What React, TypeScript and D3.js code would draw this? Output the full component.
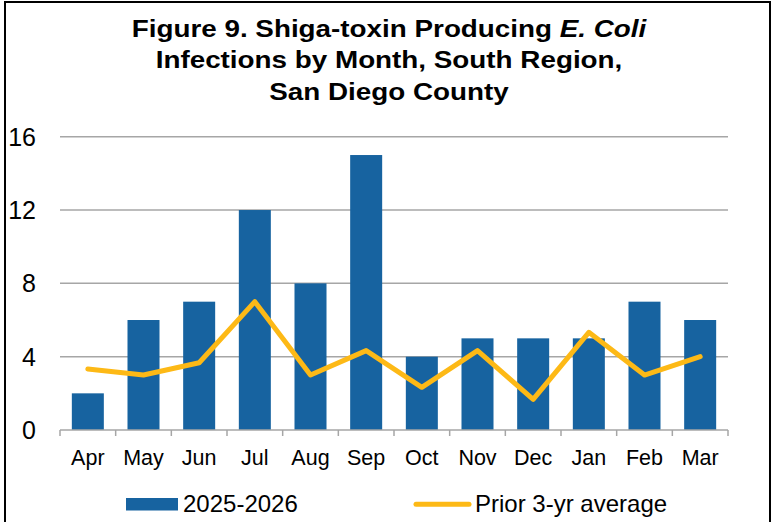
import React from "react";
import * as d3 from "d3";

const months = ["Apr", "May", "Jun", "Jul", "Aug", "Sep", "Oct", "Nov", "Dec", "Jan", "Feb", "Mar"];
const current = [2, 6, 7, 12, 8, 15, 4, 5, 5, 5, 7, 6];
const priorAvg = [3.33, 3, 3.67, 7, 3, 4.33, 2.33, 4.33, 1.67, 5.33, 3, 4];
const yTicks = [0, 4, 8, 12, 16];
const seriesNames = ["2025-2026", "Prior 3-yr average"];

const W = 772;
const H = 522;
const plotLeft = 60;
const plotRight = 728;
const plotTop = 136.7;
const plotBottom = 430;

const BLUE = "#1763a0";
const GOLD = "#fdb916";
const GRID = "#a6a6a6";
const FONT = "'Liberation Sans', Arial, sans-serif";

export default function App() {
  const x = d3.scaleBand<string>().domain(months).range([plotLeft, plotRight]).paddingInner(0.425).paddingOuter(0.2125);
  const xEdges = d3.scaleBand<string>().domain(months).range([plotLeft, plotRight]).padding(0);
  const y = d3.scaleLinear().domain([0, 16]).range([plotBottom, plotTop]);
  const line = d3
    .line<number>()
    .x((_, i) => (xEdges(months[i]) as number) + xEdges.bandwidth() / 2)
    .y((d) => y(d));

  const titleLines = [
    { y: 36.5, parts: [{ t: "Figure 9. Shiga-toxin Producing ", i: false }, { t: "E. Coli", i: true }] },
    { y: 68, parts: [{ t: "Infections by Month, South Region,", i: false }] },
    { y: 100, parts: [{ t: "San Diego County", i: false }] },
  ];

  return (
    <svg width={W} height={H} style={{ position: "absolute", left: 0, top: 0, display: "block" }} fontFamily={FONT}>
      <rect x={0} y={0} width={W} height={H} fill="#ffffff" />
      {/* border */}
      <line x1={5} y1={2} x2={5} y2={H} stroke="#000" strokeWidth={2} />
      <line x1={4} y1={2} x2={770} y2={2} stroke="#000" strokeWidth={2} />
      <line x1={770} y1={1} x2={770} y2={H} stroke="#000" strokeWidth={2} />

      {/* title */}
      {titleLines.map((l, k) => (
        <text key={k} transform={`translate(389, ${l.y}) scale(1.21, 1)`} textAnchor="middle" fontSize={23} fontWeight="bold" fill="#000">
          {l.parts.map((p, j) => (
            <tspan key={j} fontStyle={p.i ? "italic" : "normal"}>
              {p.t}
            </tspan>
          ))}
        </text>
      ))}

      {/* gridlines */}
      {yTicks
        .filter((t) => t > 0)
        .map((t) => (
          <line key={t} x1={plotLeft} x2={plotRight} y1={y(t)} y2={y(t)} stroke={GRID} strokeWidth={1.5} />
        ))}

      {/* y labels */}
      {yTicks.map((t) => (
        <text key={t} x={36} y={y(t) + 9} textAnchor="end" fontSize={25} fill="#000">
          {t}
        </text>
      ))}

      {/* bars */}
      {current.map((v, i) => (
        <rect key={i} x={x(months[i])} y={y(v)} width={x.bandwidth()} height={plotBottom - y(v)} fill={BLUE} />
      ))}

      {/* x axis */}
      <line x1={plotLeft} x2={plotRight} y1={plotBottom} y2={plotBottom} stroke={GRID} strokeWidth={1.5} />
      {months.map((m) => (
        <line key={m} x1={xEdges(m)} x2={xEdges(m)} y1={plotBottom} y2={plotBottom + 6} stroke={GRID} strokeWidth={1.5} />
      ))}
      <line x1={plotRight} x2={plotRight} y1={plotBottom} y2={plotBottom + 6} stroke={GRID} strokeWidth={1.5} />
      {months.map((m) => (
        <text key={m} x={(xEdges(m) as number) + xEdges.bandwidth() / 2} y={465} textAnchor="middle" fontSize={21.5} fill="#000">
          {m}
        </text>
      ))}

      {/* line */}
      <path d={line(priorAvg) || ""} fill="none" stroke={GOLD} strokeWidth={5} strokeLinejoin="round" strokeLinecap="round" />

      {/* legend */}
      <rect x={126} y={498} width={52} height={12.5} fill={BLUE} />
      <text x={183} y={512} fontSize={24} fill="#000">
        {seriesNames[0]}
      </text>
      <line x1={416} x2={469} y1={504.3} y2={504.3} stroke={GOLD} strokeWidth={5} strokeLinecap="round" />
      <text x={475} y={512} fontSize={24} fill="#000">
        {seriesNames[1]}
      </text>
    </svg>
  );
}
